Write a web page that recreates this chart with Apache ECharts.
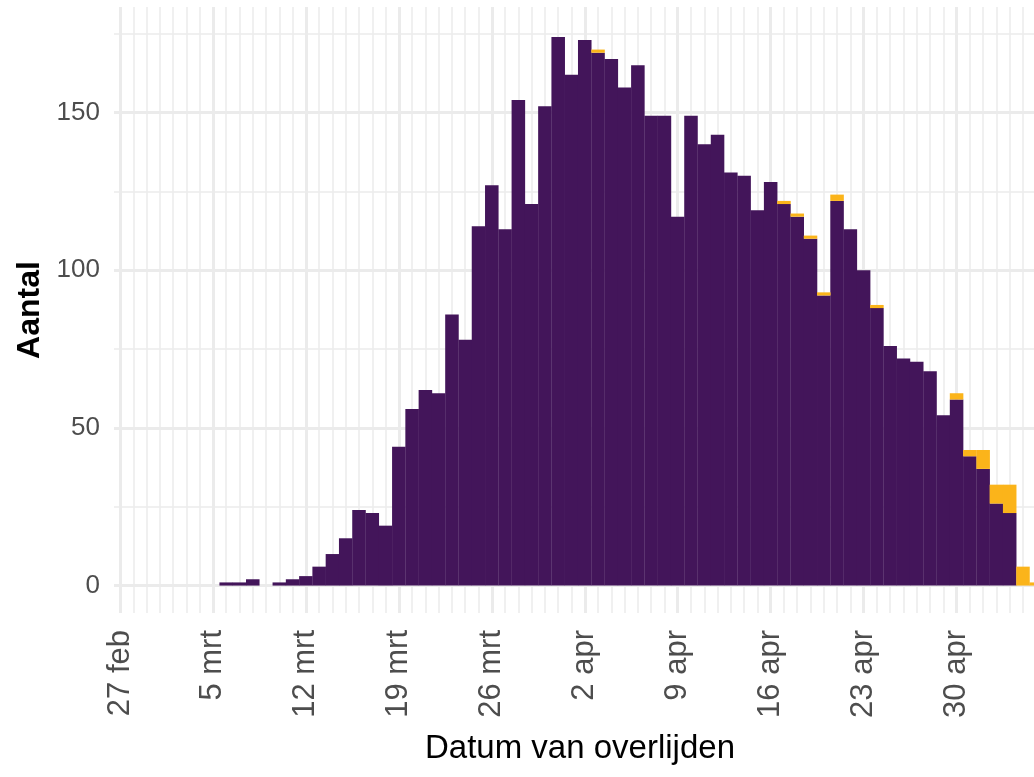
<!DOCTYPE html>
<html>
<head>
<meta charset="utf-8">
<script src="https://cdn.jsdelivr.net/npm/echarts@6/dist/echarts.min.js"></script>
<style>
  html, body { margin: 0; padding: 0; background: #fff; }
  #chart { width: 1034px; height: 777px; }
</style>
</head>
<body>
<div id="chart"></div>
<script>
// één waarde per dag, vanaf 27 feb
const dagen = [
  '27 feb', '28 feb', '29 feb',
  '1 mrt', '2 mrt', '3 mrt', '4 mrt', '5 mrt', '6 mrt', '7 mrt', '8 mrt', '9 mrt', '10 mrt',
  '11 mrt', '12 mrt', '13 mrt', '14 mrt', '15 mrt', '16 mrt', '17 mrt', '18 mrt', '19 mrt', '20 mrt',
  '21 mrt', '22 mrt', '23 mrt', '24 mrt', '25 mrt', '26 mrt', '27 mrt', '28 mrt', '29 mrt', '30 mrt', '31 mrt',
  '1 apr', '2 apr', '3 apr', '4 apr', '5 apr', '6 apr', '7 apr', '8 apr', '9 apr', '10 apr',
  '11 apr', '12 apr', '13 apr', '14 apr', '15 apr', '16 apr', '17 apr', '18 apr', '19 apr', '20 apr',
  '21 apr', '22 apr', '23 apr', '24 apr', '25 apr', '26 apr', '27 apr', '28 apr', '29 apr', '30 apr',
  '1 mei', '2 mei', '3 mei', '4 mei', '5 mei', '6 mei'
]

// gemeld (paars)
const overleden = [
  0, 0, 0, 0, 0, 0, 0, 0,
  1, 1, 2, 0, 1, 2, 3, 6,
  10, 15, 24, 23, 19, 44, 56, 62,
  61, 86, 78, 114, 127, 113, 154, 121,
  152, 174, 162, 173, 169, 167, 158, 165,
  149, 149, 117, 149, 140, 143, 131, 130,
  119, 128, 121, 117, 110, 92, 122, 113,
  100, 88, 76, 72, 71, 68, 54, 59,
  41, 37, 26, 23, 0, 0
]

// nagekomen (geel)
const nagekomen = [
  0, 0, 0, 0, 0, 0, 0, 0,
  0, 0, 0, 0, 0, 0, 0, 0,
  0, 0, 0, 0, 0, 0, 0, 0,
  0, 0, 0, 0, 0, 0, 0, 0,
  0, 0, 0, 0, 1, 0, 0, 0,
  0, 0, 0, 0, 0, 0, 0, 0,
  0, 0, 1, 1, 1, 1, 2, 0,
  0, 1, 0, 0, 0, 0, 0, 2,
  2, 6, 6, 9, 6, 1
]

const font = 'Liberation Sans, Arial, sans-serif'
const gridColor = '#EBEBEB'
const paars = '#43155A'
const geel = '#FBB41A'

const chart = echarts.init(document.getElementById('chart'))

// aantal eerst, dag als tweede kolom: zo stapelt echarts op de y-as
const barSeries = (name, values, color) => ({
  name: name,
  type: 'bar',
  stack: 'totaal',
  barWidth: '102%',
  encode: { x: 1, y: 0 },
  itemStyle: { color: color },
  data: values.map((v, i) => [v, i])
})

const option = {
  animation: false,
  backgroundColor: '#fff',
  grid: {
    left: 114,
    right: 0,
    top: 7,
    bottom: 164
  },
  xAxis: {
    type: 'value',
    min: -0.45,
    max: 68.83,
    splitNumber: 10,
    minInterval: 7,
    maxInterval: 7,
    axisLine: { show: false, onZero: false },
    axisTick: { show: false },
    axisLabel: {
      rotate: 90,
      margin: 17,
      color: '#4D4D4D',
      fontSize: 31,
      fontFamily: font,
      showMinLabel: false,
      showMaxLabel: false,
      formatter: v => (Number.isInteger(v) ? (dagen[v] || '') : '')
    },
    splitLine: {
      show: true,
      showMinLine: false,
      showMaxLine: false,
      lineStyle: { color: gridColor, width: 3 }
    },
    minorTick: { show: false, splitNumber: 7 },
    minorSplitLine: { show: true, lineStyle: { color: gridColor, width: 1.5 } },
    name: 'Datum van overlijden',
    nameLocation: 'middle',
    nameGap: 119,
    nameTextStyle: {
      color: '#000',
      fontSize: 33,
      fontFamily: font,
      padding: [0, 0, 0, 12]
    }
  },
  yAxis: {
    type: 'value',
    min: -8.7,
    max: 183.5,
    splitNumber: 4,
    minInterval: 50,
    maxInterval: 50,
    axisLine: { show: false },
    axisTick: { show: false },
    axisLabel: {
      margin: 14,
      color: '#4D4D4D',
      fontSize: 26,
      fontFamily: font,
      showMinLabel: false,
      showMaxLabel: false,
      formatter: v => (v % 50 === 0 ? String(v) : '')
    },
    splitLine: {
      show: true,
      showMinLine: false,
      showMaxLine: false,
      lineStyle: { color: gridColor, width: 3 }
    },
    minorTick: { show: false, splitNumber: 2 },
    minorSplitLine: { show: true, lineStyle: { color: gridColor, width: 1.5 } },
    name: 'Aantal',
    nameLocation: 'middle',
    nameRotate: 90,
    nameGap: 68,
    nameTextStyle: {
      color: '#000',
      fontSize: 32,
      fontWeight: 'bold',
      fontFamily: font
    }
  },
  series: [
    barSeries('gemeld', overleden, paars),
    barSeries('nagekomen', nagekomen, geel)
  ]
}

chart.setOption(option)
</script>
</body>
</html>
